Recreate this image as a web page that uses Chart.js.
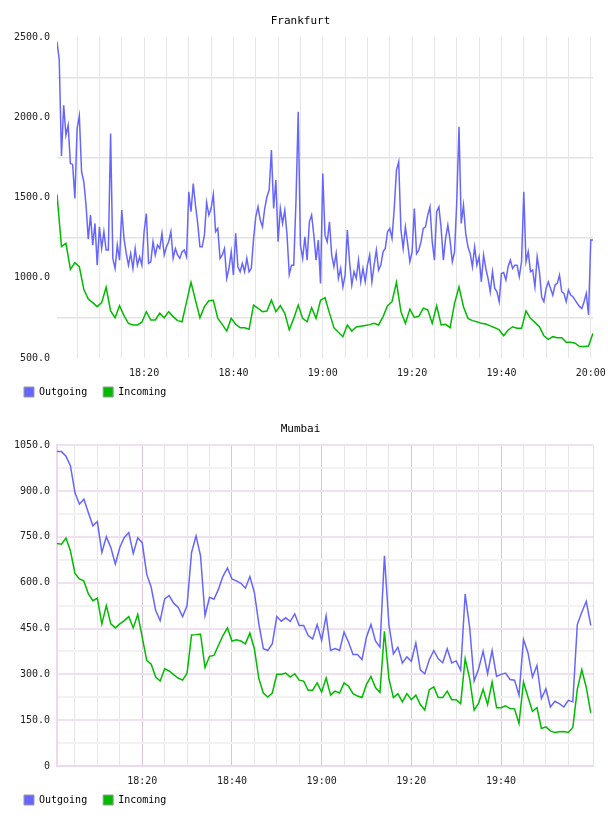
<!DOCTYPE html>
<html>
<head>
<meta charset="utf-8">
<script src="https://cdn.jsdelivr.net/npm/chart.js@4.4.1/dist/chart.umd.min.js"></script>
<style>
  html, body { margin: 0; padding: 0; background: #fff; }
  .box { position: absolute; left: 0; width: 608px; }
  #top { top: 0; height: 407px; }
  #bottom { top: 408px; height: 407px; }
</style>
</head>
<body>
<div class="box" id="top"><canvas id="frankfurt"></canvas></div>
<div class="box" id="bottom"><canvas id="mumbai"></canvas></div>
<script>
// minutes after 18:00
var frankfurtStart = 0.5;
var frankfurtOutStep = 0.5;
var frankfurtInStep = 1;

var frankfurtOutgoing = [
  2471, 2360, 1760, 2076, 1889, 1952, 1713, 1707, 1495, 1931, 2010, 1661, 1599, 1453, 1241, 1391,
  1204, 1339, 1079, 1318, 1183, 1287, 1173, 1173, 1900, 1121, 1058, 1204, 1110, 1422, 1246, 1152,
  1079, 1152, 1058, 1183, 1079, 1131, 1079, 1287, 1401, 1090, 1100, 1225, 1142, 1204, 1183, 1277,
  1142, 1193, 1225, 1287, 1121, 1183, 1142, 1121, 1162, 1173, 1131, 1536, 1412, 1588, 1453, 1339,
  1193, 1193, 1266, 1470, 1391, 1432, 1520, 1287, 1308, 1121, 1142, 1183, 996, 1058, 1162, 1017,
  1277, 1069, 1038, 1090, 1038, 1121, 1038, 1058, 1241, 1380, 1443, 1360, 1318, 1432, 1505, 1547,
  1796, 1432, 1609, 1225, 1432, 1339, 1422, 1266, 1021, 1079, 1079, 1474, 2035, 1204, 1121, 1256,
  1110, 1349, 1391, 1266, 1110, 1235, 965, 1650, 1266, 1225, 1349, 1142, 1069, 1152, 996, 1058,
  944, 1017, 1297, 1100, 955, 1038, 996, 1110, 975, 1058, 975, 1079, 1142, 975, 1079, 1173,
  1048, 1079, 1162, 1183, 1287, 1308, 1246, 1432, 1671, 1723, 1300, 1183, 1318, 1214, 1100, 1162,
  1432, 1150, 1173, 1225, 1308, 1318, 1391, 1443, 1225, 1110, 1412, 1443, 1308, 1110, 1246, 1329,
  1235, 1100, 1162, 1474, 1941, 1339, 1453, 1277, 1193, 1152, 1069, 1193, 1079, 1131, 975, 1142,
  1058, 996, 913, 1038, 934, 913, 851, 1027, 1033, 986, 1069, 1110, 1058, 1079, 1079, 1007,
  1100, 1536, 1100, 1162, 1038, 1048, 944, 1131, 1038, 882, 851, 934, 975, 934, 892, 955,
  965, 1017, 913, 903, 851, 924, 892, 882, 861, 840, 820, 809, 851, 903, 768, 1235, 1235
];

var frankfurtIncoming = [
  1520, 1194, 1215, 1053, 1094, 1069, 928, 868, 845, 820, 845, 941, 793, 751, 826, 764,
  716, 706, 706, 723, 789, 737, 737, 779, 751, 789, 758, 733, 726, 850, 972, 860,
  751, 820, 857, 860, 747, 710, 668, 747, 710, 689, 689, 679, 830, 810, 789, 793,
  861, 789, 826, 779, 675, 747, 830, 747, 726, 814, 747, 860, 876, 780, 689, 660,
  633, 706, 668, 693, 698, 703, 708, 716, 706, 758, 826, 851, 972, 789, 716, 805,
  753, 760, 810, 800, 716, 826, 706, 710, 689, 841, 944, 820, 747, 733, 726, 716,
  712, 700, 689, 675, 639, 675, 695, 685, 685, 793, 747, 722, 695, 639, 616, 633,
  627, 627, 598, 598, 592, 571, 571, 575, 654
];

var frankfurtXTicks = [5, 10, 15, 20, 25, 30, 35, 40, 45, 50, 55, 60, 65, 70, 75, 80, 85, 90, 95, 100, 105, 110, 115, 120];
var frankfurtYTicks = [500, 750, 1000, 1250, 1500, 1750, 2000, 2250, 2500];

var mumbaiStart = 1;
var mumbaiStep = 1;

var mumbaiOutgoing = [
  1029, 1029, 1014, 982, 895, 857, 873, 829, 786, 800, 699, 750, 715, 661, 715, 748,
  764, 696, 747, 731, 628, 585, 509, 476, 547, 558, 533, 520, 489, 525, 699, 753,
  688, 492, 552, 546, 579, 621, 648, 612, 606, 598, 582, 620, 568, 465, 384, 378,
  400, 489, 474, 485, 473, 498, 460, 460, 427, 416, 463, 411, 492, 378, 384, 378,
  438, 405, 365, 365, 348, 422, 463, 409, 389, 688, 463, 367, 389, 337, 357, 343,
  403, 315, 302, 348, 378, 351, 338, 384, 337, 344, 313, 563, 454, 278, 318, 376,
  302, 378, 293, 300, 304, 283, 281, 232, 414, 371, 291, 329, 221, 253, 193, 212,
  204, 193, 215, 210, 463, 503, 539, 460
];

var mumbaiIncoming = [
  728, 726, 746, 704, 630, 612, 605, 563, 541, 549, 465, 525, 465, 452, 465, 476,
  489, 452, 496, 422, 346, 333, 291, 278, 318, 311, 299, 288, 281, 304, 429, 430,
  432, 322, 359, 362, 395, 427, 452, 409, 413, 409, 400, 435, 384, 286, 239, 226,
  239, 300, 300, 304, 291, 302, 281, 278, 248, 248, 272, 242, 288, 232, 245, 239,
  272, 261, 237, 229, 224, 267, 293, 257, 241, 441, 286, 224, 237, 210, 237, 217,
  232, 201, 183, 250, 259, 224, 224, 245, 217, 217, 204, 351, 286, 183, 206, 251,
  201, 275, 191, 191, 197, 188, 187, 139, 275, 226, 179, 191, 123, 128, 115, 110,
  112, 113, 110, 126, 251, 315, 257, 174
];

var mumbaiXTicks = [5, 10, 15, 20, 25, 30, 35, 40, 45, 50, 55, 60, 65, 70, 75, 80, 85, 90, 95, 100, 105, 110, 115];
var mumbaiYTicks = [0, 75, 150, 225, 300, 375, 450, 525, 600, 675, 750, 825, 900, 975, 1050];

var FONT = "'DejaVu Sans Mono', monospace";
var BLUE = '#6666ff';
var GREEN = '#00bb00';

function points(values, start, step) {
  return values.map(function (v, i) { return { x: start + i * step, y: v }; });
}

function hhmm(v) {
  var h = 18 + Math.floor(v / 60);
  var m = v % 60;
  return h + ':' + (m < 10 ? '0' + m : m);
}

// pull the legend up closer to the axis labels (labels.padding also sets item spacing)
var legendShift = {
  id: 'legendShift',
  afterLayout: function (chart) {
    chart.legend.top -= 8;
    chart.legend.bottom -= 8;
  }
};

function makeChart(id, title, datasets, x, y) {
  return new Chart(document.getElementById(id), {
    type: 'line',
    data: {
      datasets: datasets.map(function (d) {
        return { label: d.label, data: d.data, borderColor: d.color, backgroundColor: d.color,
                 borderWidth: 1.5, pointRadius: 0, tension: 0, fill: false };
      })
    },
    plugins: [legendShift],
    options: {
      animation: false,
      responsive: true,
      maintainAspectRatio: false,
      layout: { padding: { left: 8, right: 15, top: 0, bottom: 0 } },
      plugins: {
        title: { display: true, text: title, color: '#000',
                 font: { family: FONT, size: 11, weight: 'normal' },
                 padding: { top: 15, bottom: 9 } },
        legend: {
          position: 'bottom', align: 'start', maxHeight: 28,
          labels: {
            color: '#000', font: { family: FONT, size: 10 }, boxWidth: 10, boxHeight: 10, padding: 16,
            generateLabels: function (chart) {
              return chart.data.datasets.map(function (d, i) {
                return { text: d.label, fillStyle: d.borderColor, strokeStyle: '#999', lineWidth: 1,
                         datasetIndex: i, hidden: false, fontColor: '#000' };
              });
            }
          }
        },
        tooltip: { enabled: false }
      },
      scales: {
        x: {
          type: 'linear', min: x.min, max: x.max,
          afterBuildTicks: function (axis) { axis.ticks = x.ticks.map(function (v) { return { value: v }; }); },
          afterFit: function (axis) { axis.height = 21; axis.paddingLeft = 0; axis.paddingRight = 0; },
          grid: { drawTicks: false, color: x.gridColor, lineWidth: 1 },
          border: x.border,
          ticks: { autoSkip: false, maxRotation: 0, padding: 9, color: '#222',
                   font: { family: FONT, size: 10 },
                   callback: function (v) { return v % 20 === 0 ? hhmm(v) : ''; } }
        },
        y: {
          min: y.min, max: y.max,
          afterBuildTicks: function (axis) { axis.ticks = y.ticks.map(function (v) { return { value: v }; }); },
          afterFit: function (axis) { axis.width = 49; },
          grid: { drawTicks: false, color: y.gridColor, lineWidth: y.lineWidth },
          border: y.border,
          ticks: { padding: 7, color: '#222', font: { family: FONT, size: 10 }, callback: y.label }
        }
      }
    }
  });
}

makeChart('frankfurt', 'Frankfurt', [
  { label: 'Outgoing', color: BLUE, data: points(frankfurtOutgoing, frankfurtStart, frankfurtOutStep) },
  { label: 'Incoming', color: GREEN, data: points(frankfurtIncoming, frankfurtStart, frankfurtInStep) }
], {
  min: 0.5, max: 120.5, ticks: frankfurtXTicks,
  gridColor: '#e6e6e6',
  border: { display: false }
}, {
  min: 500, max: 2500, ticks: frankfurtYTicks,
  gridColor: function (ctx) { return ctx.tick.value % 500 === 0 ? 'rgba(0,0,0,0)' : '#e4e4e4'; },
  lineWidth: 1.5,
  border: { display: false },
  label: function (v) { return v % 500 === 0 ? v.toFixed(1) : ''; }
});

var mumbaiXMax = 120.5;
makeChart('mumbai', 'Mumbai', [
  { label: 'Outgoing', color: BLUE, data: points(mumbaiOutgoing, mumbaiStart, mumbaiStep) },
  { label: 'Incoming', color: GREEN, data: points(mumbaiIncoming, mumbaiStart, mumbaiStep) }
], {
  min: 1, max: mumbaiXMax, ticks: mumbaiXTicks.concat([mumbaiXMax]),
  gridColor: function (ctx) {
    var v = ctx.tick.value;
    if (v === mumbaiXMax) return '#eed8ee';
    return v % 20 === 0 ? '#dcc4dc' : '#e6e6e6';
  },
  border: { display: true, color: '#eed8ee', width: 2 }
}, {
  min: 0, max: 1050, ticks: mumbaiYTicks,
  gridColor: function (ctx) { return ctx.tick.value % 150 === 0 ? '#f0e0f0' : '#f2f2f2'; },
  lineWidth: 2,
  border: { display: true, color: '#eed8ee', width: 2 },
  label: function (v) { return v === 0 ? '0' : (v % 150 === 0 ? v.toFixed(1) : ''); }
});
</script>
</body>
</html>
